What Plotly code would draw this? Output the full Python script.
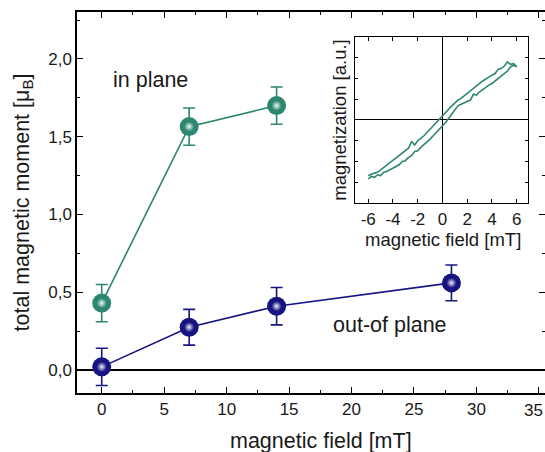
import plotly.graph_objects as go

# ---- main data ----
field_in = [0, 7, 14]
moment_in = [0.43, 1.565, 1.70]
err_in = [0.12, 0.12, 0.12]

field_out = [0, 7, 14, 28]
moment_out = [0.02, 0.275, 0.41, 0.56]
err_out = [0.12, 0.115, 0.12, 0.115]

x_tick_vals = [0, 5, 10, 15, 20, 25, 30]
y_tick_vals = [0, 0.5, 1.0, 1.5, 2.0]
inset_tick_vals = [-6, -4, -2, 0, 2, 4, 6]
inset_tick_text = ["-6", "-4", "-2", "0", "2", "4", "6"]

# ---- inset hysteresis loop ----
loop_up_x = [-6.0, -5.75, -5.5, -5.25, -5.0, -4.75, -4.5, -4.25, -4.0, -3.75, -3.5, -3.25,
             -3.0, -2.75, -2.5, -2.25, -2.0, -1.75, -1.5, -1.25, -1.0, -0.75, -0.5, -0.25,
             0.0, 0.25, 0.5, 0.75, 1.0, 1.25, 1.5, 1.75, 2.0, 2.25, 2.5, 2.75,
             3.0, 3.25, 3.5, 3.75, 4.0, 4.25, 4.5, 4.75, 5.0, 5.25, 5.5, 5.75, 6.0]
loop_up_y = [-0.71, -0.68, -0.69, -0.66, -0.67, -0.63, -0.62, -0.60, -0.58, -0.55, -0.54, -0.50,
             -0.49, -0.45, -0.43, -0.38, -0.37, -0.33, -0.30, -0.26, -0.23, -0.19, -0.15, -0.11,
             -0.08, -0.03, 0.02, 0.07, 0.13, 0.17, 0.19, 0.21, 0.22, 0.24, 0.31, 0.30,
             0.34, 0.37, 0.39, 0.42, 0.44, 0.47, 0.50, 0.53, 0.57, 0.59, 0.64, 0.66, 0.64]
loop_down_x = [6.0, 5.75, 5.5, 5.25, 5.0, 4.75, 4.5, 4.25, 4.0, 3.75, 3.5, 3.25,
               3.0, 2.75, 2.5, 2.25, 2.0, 1.75, 1.5, 1.25, 1.0, 0.75, 0.5, 0.25,
               0.0, -0.25, -0.5, -0.75, -1.0, -1.25, -1.5, -1.75, -2.0, -2.25, -2.5, -2.75,
               -3.0, -3.25, -3.5, -3.75, -4.0, -4.25, -4.5, -4.75, -5.0, -5.25, -5.5, -5.75, -6.0]
loop_down_y = [0.64, 0.68, 0.67, 0.70, 0.65, 0.62, 0.61, 0.56, 0.54, 0.52, 0.49, 0.47,
               0.44, 0.41, 0.38, 0.35, 0.32, 0.28, 0.26, 0.24, 0.21, 0.17, 0.13, 0.09,
               0.05, 0.0, -0.04, -0.08, -0.12, -0.16, -0.19, -0.22, -0.25, -0.30, -0.26, -0.34,
               -0.37, -0.40, -0.42, -0.45, -0.49, -0.52, -0.54, -0.58, -0.60, -0.63, -0.64, -0.66, -0.67]

TEAL = "rgb(44,134,112)"
NAVY = "rgb(22,20,128)"
FONT = "Liberation Sans, Arial, Helvetica, sans-serif"
TXT = "rgb(25,25,25)"

fig = go.Figure()

def add_series(x, y, e, color, light):
    fig.add_trace(go.Scatter(
        x=x, y=y, mode="lines+markers",
        line=dict(color=color, width=1.6),
        marker=dict(size=19, color=color, line=dict(width=0)),
        error_y=dict(type="data", array=e, color=color, thickness=1.6, width=6),
        showlegend=False, hoverinfo="skip"))
    fig.add_trace(go.Scatter(
        x=x, y=y, mode="markers",
        marker=dict(size=10, color=color, line=dict(width=0),
                    gradient=dict(type="radial", color=light)),
        showlegend=False, hoverinfo="skip"))

add_series(field_in, moment_in, err_in, TEAL, "rgb(240,252,248)")
add_series(field_out, moment_out, err_out, NAVY, "rgb(240,240,255)")

# inset loop
fig.add_trace(go.Scatter(x=loop_up_x + loop_down_x, y=loop_up_y + loop_down_y,
                         mode="lines", line=dict(color=TEAL, width=1.6),
                         xaxis="x2", yaxis="y3", showlegend=False, hoverinfo="skip"))

fig.add_annotation(x=3.87, y=1.865, text="in plane", showarrow=False,
                   font=dict(size=21.5, color=TXT, family=FONT))
fig.add_annotation(x=23.1, y=0.29, text="out-of plane", showarrow=False,
                   font=dict(size=21.5, color=TXT, family=FONT))
# last x tick label, at the picture edge
fig.add_annotation(x=35, xref="x", y=0, yref="paper", yanchor="top", xanchor="right",
                   xshift=6, yshift=-6,
                   text="35", showarrow=False, font=dict(size=17, color=TXT, family=FONT))
# main x-axis title
fig.add_annotation(x=0.521, xref="paper", y=-0.126, yref="paper",
                   xanchor="center", yanchor="middle",
                   text="magnetic field [mT]", showarrow=False,
                   font=dict(size=21.5, color=TXT, family=FONT))
# inset x-axis title
fig.add_annotation(x=0.782, xref="paper", y=0.403, yref="paper",
                   xanchor="center", yanchor="middle",
                   text="magnetic field [mT]", showarrow=False,
                   font=dict(size=18.5, color=TXT, family=FONT))

fig.update_layout(
    width=545, height=452,
    margin=dict(l=77, r=0, t=12, b=59),
    paper_bgcolor="white", plot_bgcolor="white",
    separators=",.",
    font=dict(family=FONT, color=TXT, size=17),
    xaxis=dict(range=[-1.98, 35.49], domain=[0, 1],
               tickvals=x_tick_vals + [35], ticktext=[str(v) for v in x_tick_vals] + [""],
               ticks="inside", ticklen=6, tickwidth=1.2, tickcolor="black",
               minor=dict(ticks="inside", ticklen=3, dtick=2.5, tickcolor="black", tickwidth=1.2),
               showline=True, linecolor="black", linewidth=1.5, mirror="ticks",
               showgrid=False, zeroline=False,
               tickfont=dict(size=17)),
    yaxis=dict(range=[-0.148, 2.302], domain=[0, 1],
               tickvals=y_tick_vals, tickformat=".1f",
               ticks="inside", ticklen=6, tickwidth=1.2, tickcolor="black",
               minor=dict(ticks="inside", ticklen=3, dtick=0.25, tickcolor="black", tickwidth=1.2),
               showline=True, linecolor="black", linewidth=1.5, mirror=False,
               showgrid=False, zeroline=True, zerolinecolor="black", zerolinewidth=1.5,
               tickfont=dict(size=17),
               title=dict(text="total magnetic moment [μ<sub>B</sub>]", font=dict(size=21.5), standoff=13)),
    yaxis2=dict(range=[-0.148, 2.302], overlaying="y", side="right", anchor="x",
                tickvals=y_tick_vals,
                ticks="inside", ticklen=6, tickwidth=1.2, tickcolor="black",
                minor=dict(ticks="inside", ticklen=3, dtick=0.25, tickcolor="black", tickwidth=1.2),
                showticklabels=False, showline=False, showgrid=False, zeroline=False),
    xaxis2=dict(domain=[0.594, 0.9637], anchor="y3", range=[-7.07, 6.91],
                tickvals=inset_tick_vals, ticktext=inset_tick_text,
                ticks="inside", ticklen=4, tickwidth=1, tickcolor="black",
                showline=True, linecolor="black", linewidth=1.3, mirror="ticks",
                showgrid=False, zeroline=True, zerolinecolor="black", zerolinewidth=1.3,
                tickfont=dict(size=17)),
    yaxis3=dict(domain=[0.4987, 0.9344], anchor="x2", range=[-1, 1],
                dtick=0.25, showticklabels=False,
                ticks="inside", ticklen=3, tickwidth=1, tickcolor="black",
                showline=True, linecolor="black", linewidth=1.3, mirror="ticks",
                showgrid=False, zeroline=True, zerolinecolor="black", zerolinewidth=1.3,
                title=dict(text="magnetization [a.u.]", font=dict(size=18.5), standoff=2)),
)

# dummy trace to activate yaxis2 (right-side ticks)
fig.add_trace(go.Scatter(x=[None], y=[None], yaxis="y2", showlegend=False, hoverinfo="skip"))

fig.write_html("out.html")
